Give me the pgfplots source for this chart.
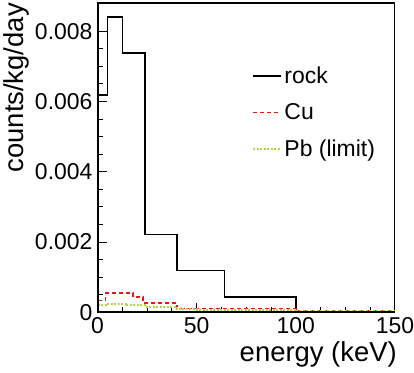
\documentclass[border=0pt]{standalone}
\usepackage{fontspec}
\setmainfont{Liberation Sans}
\usepackage{pgfplots}
\pgfplotsset{compat=1.18}
\definecolor{cured}{RGB}{225,25,25}
\definecolor{pbgreen}{RGB}{175,212,70}
\begin{document}
\begin{tikzpicture}
\begin{axis}[
  scale only axis, width=297bp, height=309bp,
  xmin=0, xmax=150, ymin=0, ymax=0.0088,
  xtick={0,50,100,150}, minor x tick num=3,
  ytick={0,0.002,0.004,0.006,0.008},
  yticklabels={0,0.002,0.004,0.006,0.008},
  minor y tick num=3,
  tick pos=left, tick align=inside,
  major tick length=9bp, minor tick length=5bp,
  tick style={black, line width=1pt},
  axis line style={line width=1pt},
  scaled y ticks=false,
  /pgf/number format/assume math mode=true,
  tick label style={font=\fontsize{23}{25}\selectfont},
  xticklabel style={inner sep=0pt, yshift=-5bp},
  yticklabel style={inner sep=0pt, xshift=-5bp},
  xlabel={energy (keV)}, ylabel={counts/kg/day},
  label style={font=\fontsize{27.5}{30}\selectfont},
  xlabel style={at={(rel axis cs:1,0)}, anchor=north east, inner sep=0pt, yshift=-29bp, xshift=2bp},
  ylabel style={at={(ticklabel cs:1,6bp)}, anchor=south east, inner sep=0pt},
  legend style={draw=none, fill=none, at={(rel axis cs:0.52,0.80)}, anchor=north west,
    font=\fontsize{23}{26}\selectfont, row sep=14.5bp, inner sep=0pt},
  legend cell align=left,
  legend image code/.code={\draw[#1] plot coordinates {(0bp,0bp) (28bp,0bp)};},
]
\addplot[const plot, black, line width=1.6pt] coordinates {
  (0,0.00618) (5,0.0084) (12.5,0.00738) (24,0.00221) (40,0.00119) (64,0.00043) (100,0) (150,0)};
\addlegendentry{rock}
\addplot[const plot, cured, line width=1.8pt, dash pattern=on 4bp off 3bp] coordinates {
  (0,0.00034) (4,0.00054) (18,0.00043) (23,0.00026) (40,0.00011) (100,0.00003) (150,0.00003)};
\addlegendentry{Cu}
\addplot[const plot, pbgreen, line width=2pt, dash pattern=on 2bp off 1.5bp] coordinates {
  (0,0.00022) (5,0.00025) (15,0.0002) (25,0.00015) (40,0.0001) (50,0.00008) (100,0.00003) (150,0.00003)};
\addlegendentry{Pb (limit)}
\end{axis}
\draw[line width=2.5pt] ([xshift=-1bp]current axis.north west) -- ([xshift=0.5bp]current axis.north east);
\draw[line width=2pt] (current axis.south west) -- (current axis.north west);
\draw[line width=2pt] (current axis.south west) -- (current axis.south east);
\pgfresetboundingbox
\path[use as bounding box] ([xshift=-97.5bp,yshift=-60bp]current axis.south west) rectangle ([xshift=19bp,yshift=3bp]current axis.north east);
\end{tikzpicture}
\end{document}
